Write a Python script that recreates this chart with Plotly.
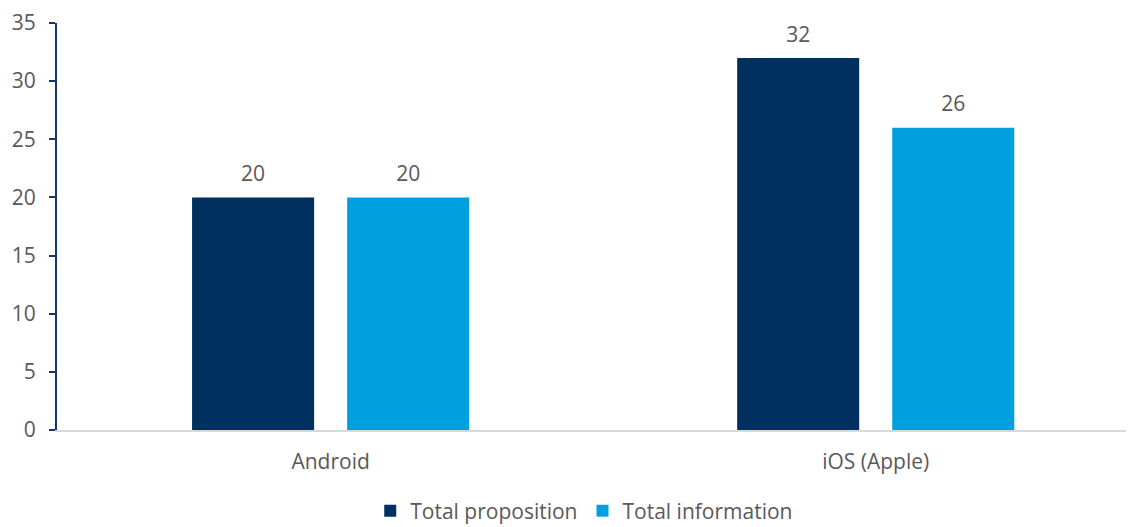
import plotly.graph_objects as go

categories = ["Android", "iOS (Apple)"]
total_proposition = [20, 32]
total_information = [20, 26]
series_names = ["Total proposition", "Total information"]
y_ticks = [0, 5, 10, 15, 20, 25, 30, 35]

dark = "#00305F"
light = "#009FDF"
gray_text = "#595959"
font_family = "Open Sans, Liberation Sans, sans-serif"
BARGAP = 0.431

fig = go.Figure()
series = [(series_names[0], total_proposition, dark),
          (series_names[1], total_information, light)]
for name, vals, col in series:
    fig.add_trace(go.Bar(
        x=categories, y=vals, name=name, marker_color=col,
        marker_line_width=0,
    ))
for name, vals, col in series:
    fig.add_trace(go.Scatter(
        x=categories, y=vals, mode="markers+text", showlegend=False,
        text=[str(v) for v in vals], textposition="top center",
        marker=dict(size=16, opacity=0, color=col),
        textfont=dict(size=21, color=gray_text, family=font_family),
        cliponaxis=False, hoverinfo="skip",
    ))

fig.update_layout(
    width=1126, height=519,
    margin=dict(l=49, r=1, t=15, b=97, autoexpand=False),
    barmode="group", bargap=BARGAP, bargroupgap=0.213,
    scattermode="group", scattergap=BARGAP,
    plot_bgcolor="white", paper_bgcolor="white",
    font=dict(family=font_family, color=gray_text, size=21),
    showlegend=True,
    legend=dict(orientation="h", x=0.49, xanchor="center", y=-0.199, yanchor="middle",
                font=dict(size=21, color=gray_text), traceorder="normal",
                itemwidth=30),
    xaxis=dict(
        type="category", range=[-0.502, 1.472], automargin=False,
        showline=True, linecolor="#D9D9D9", linewidth=2,
        ticks="", tickfont=dict(size=21, color=gray_text),
        ticklabelstandoff=12,
        showgrid=False, zeroline=False,
    ),
    yaxis=dict(
        range=[0, 35], tickvals=y_ticks, automargin=False,
        showline=True, linecolor="#14386B", linewidth=2,
        ticks="outside", ticklen=6, tickwidth=2, tickcolor="#14386B",
        tickfont=dict(size=21, color=gray_text),
        ticklabelstandoff=9,
        showgrid=False, zeroline=False,
    ),
)

fig.write_html("out.html")
